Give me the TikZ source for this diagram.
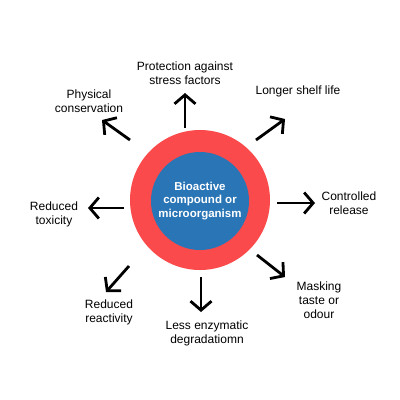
\documentclass[tikz,border=0pt]{standalone}
\usepackage{fontspec}
\setmainfont{Liberation Sans}
\usetikzlibrary{arrows.meta}
\definecolor{ringred}{HTML}{FA4A4B}
\definecolor{coreblue}{HTML}{2A75B6}
\begin{document}
\begin{tikzpicture}[x=1pt,y=-1pt,
  lbl/.style={align=center,font=\fontsize{12}{14}\selectfont,text=black,inner sep=0pt},
  outarrow/.style={line width=2.8pt,-{Straight Barb[length=9pt,width=21pt]}}]
\useasboundingbox (0,0) rectangle (400,400);
\fill[white] (0,0) rectangle (400,400);
\node[circle,fill=ringred,minimum size=140pt,inner sep=0pt] (ring) at (200,200) {};
\node[circle,fill=coreblue,minimum size=98pt,inner sep=0pt,align=center,text=white,
  font=\bfseries\fontsize{11.5}{13.5}\selectfont] (core) at (200,201) {Bioactive\\compound or\\microorganism};
% arrow coordinates
\coordinate (t1) at (185,128); \coordinate (h1) at (185,93);
\coordinate (t2) at (130,140); \coordinate (h2) at (102,120);
\coordinate (t3) at (256,140); \coordinate (h3) at (285,119);
\coordinate (t4) at (277,203); \coordinate (h4) at (315,203);
\coordinate (t5) at (257,255); \coordinate (h5) at (285,277);
\coordinate (t6) at (201,277); \coordinate (h6) at (201,312);
\coordinate (t7) at (129,266); \coordinate (h7) at (106,292);
\coordinate (t8) at (124,208); \coordinate (h8) at (88,208);
\foreach \i in {1,...,8} {\draw[outarrow] (t\i) -- (h\i);}
% labels
\node[lbl] (l1) at (185,73) {Protection against\\stress factors};
\node[lbl] (l2) at (89,101) {Physical\\conservation};
\node[lbl] (l3) at (298,91) {Longer shelf life};
\node[lbl] (l4) at (349,203) {Controlled\\release};
\node[lbl] (l5) at (319,300) {Masking\\taste or\\odour};
\node[lbl] (l6) at (207,333) {Less enzymatic\\degradatiomn};
\node[lbl] (l7) at (109,312) {Reduced\\reactivity};
\node[lbl] (l8) at (54,214) {Reduced\\toxicity};
\end{tikzpicture}
\end{document}
